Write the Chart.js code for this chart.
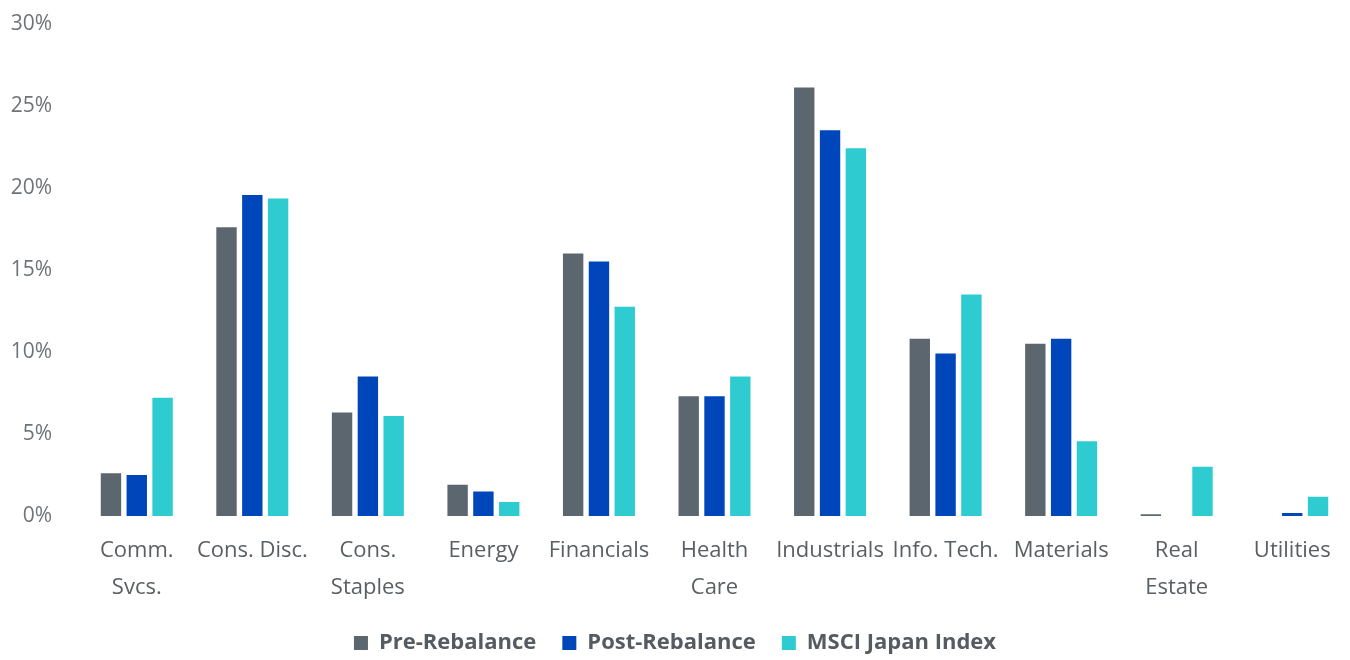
<!DOCTYPE html>
<html>
<head>
<meta charset="utf-8">
<script src="https://cdn.jsdelivr.net/npm/chart.js@4.4.1/dist/chart.umd.min.js"></script>
<style>
  html, body { margin: 0; padding: 0; background: #ffffff; overflow: hidden; }
  /* canvas is a little taller than the page and pulled up, so the 30% tick sits near the top edge */
  #wrap { width: 1350px; height: 680px; margin-top: -16px; position: relative; }
</style>
</head>
<body>
<div id="wrap"><canvas id="sectorChart"></canvas></div>
<script>
// Sector weights (%)
const sectors = [
  ['Comm.', 'Svcs.'], 'Cons. Disc.', ['Cons.', 'Staples'], 'Energy', 'Financials',
  ['Health', 'Care'], 'Industrials', 'Info. Tech.', 'Materials', ['Real', 'Estate'], 'Utilities'
];
const preRebalance  = [2.6, 17.6, 6.3, 1.9, 16.0, 7.3, 26.1, 10.8, 10.5, 0.1, 0];
const postRebalance = [2.5, 19.55, 8.5, 1.5, 15.5, 7.3, 23.5, 9.9, 10.8, 0, 0.18];
const msciJapan     = [7.2, 19.35, 6.1, 0.85, 12.75, 8.5, 22.4, 13.5, 4.55, 3.0, 1.17];
const yTicks = [0, 5, 10, 15, 20, 25, 30];

const fontFamily = '"Open Sans", Lato, sans-serif';

window.sectorChartInstance = new Chart(document.getElementById('sectorChart'), {
  type: 'bar',
  data: {
    labels: sectors,
    datasets: [
      { label: 'Pre-Rebalance', data: preRebalance, backgroundColor: '#5c666f' },
      { label: 'Post-Rebalance', data: postRebalance, backgroundColor: '#0046bb' },
      { label: 'MSCI Japan Index', data: msciJapan, backgroundColor: '#2ecbd1' }
    ]
  },
  options: {
    responsive: true,
    maintainAspectRatio: false,
    animation: false,
    categoryPercentage: 0.67,
    barPercentage: 0.79,
    layout: { padding: { top: 0, right: 0, bottom: 0, left: 0 } },
    plugins: {
      tooltip: { enabled: false },
      legend: {
        position: 'bottom',
        labels: {
          color: '#555b61',
          boxWidth: 14,
          boxHeight: 14,
          padding: 26,
          font: { family: fontFamily, size: 22, weight: 'bold' }
        }
      }
    },
    scales: {
      x: {
        afterFit: scale => { scale.height = 90; },
        grid: { display: false, drawTicks: false },
        border: { display: false },
        ticks: {
          color: '#5a5f64',
          padding: 16,
          maxRotation: 0,
          autoSkip: false,
          font: { family: fontFamily, size: 22, lineHeight: 1.68 }
        }
      },
      y: {
        min: 0,
        max: 30,
        afterFit: scale => { scale.width = 79; },
        afterBuildTicks: scale => { scale.ticks = yTicks.map(v => ({ value: v })); },
        grid: { display: false, drawTicks: false },
        border: { display: false },
        ticks: {
          color: '#6f7479',
          padding: 27,
          font: { family: fontFamily, size: 21 },
          callback: v => v + '%'
        }
      }
    }
  }
});
</script>
</body>
</html>
